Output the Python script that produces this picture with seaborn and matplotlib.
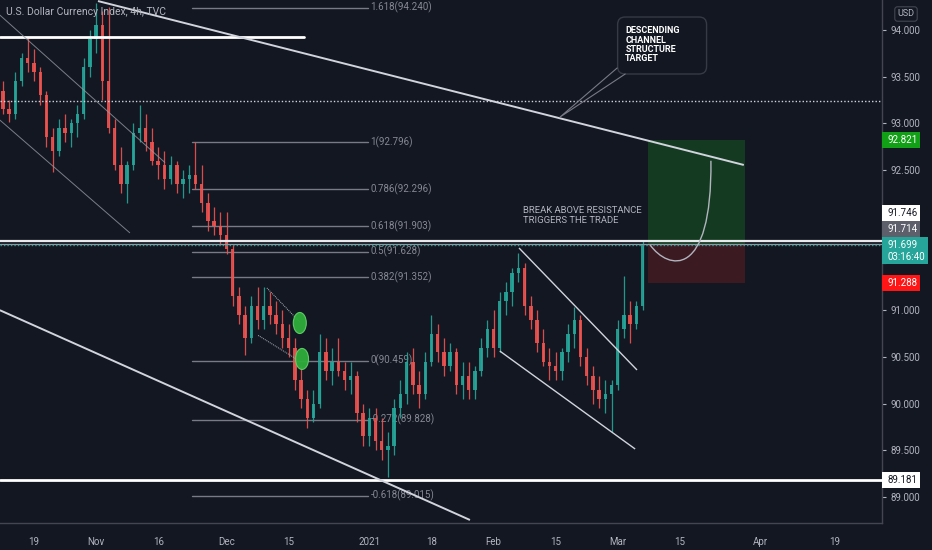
import numpy as np
import pandas as pd
import seaborn as sns
import matplotlib.pyplot as plt
from matplotlib.patches import Rectangle, Ellipse, FancyBboxPatch, PathPatch
from matplotlib.path import Path
from matplotlib.transforms import blended_transform_factory

# %% data -------------------------------------------------------------
# daily bars on a trading-day axis, day 0 = 2020-10-19
first_day = -5
first_open = 93.35
closes = [93.15, 93.10, 93.45, 93.70, 93.65, 93.55, 93.30, 92.85, 92.70, 92.95,
          92.90, 93.00, 93.10, 93.60, 93.90, 94.05, 93.45, 92.95, 92.55, 92.35,
          92.55, 92.90, 92.95, 92.80, 92.60, 92.55, 92.40, 92.55, 92.35, 92.40,
          92.45, 92.35, 92.15, 91.95, 91.90, 91.80, 91.65, 91.15, 90.95, 90.70,
          91.05, 90.90, 91.05, 90.95, 90.85, 90.70, 90.60, 90.25, 90.05, 89.85,
          90.00, 90.55, 90.35, 90.45, 90.35, 90.25, 90.30, 89.90, 89.65, 89.85,
          89.60, 89.50, 89.55, 89.95, 90.10, 90.45, 90.20, 90.10, 90.45, 90.75,
          90.55, 90.40, 90.55, 90.20, 90.30, 90.15, 90.35, 90.60, 90.80, 90.60,
          91.10, 91.20, 91.40, 91.45, 91.05, 90.90, 90.65, 90.45, 90.40, 90.35,
          90.55, 90.75, 90.90, 90.50, 90.30, 90.15, 90.05, 90.10, 90.20, 90.80,
          90.95, 90.85, 91.05, 91.70]
highs = [93.45, 93.25, 93.55, 93.75, 93.91, 93.80, 93.60, 93.35, 92.95, 93.05,
         93.10, 93.05, 93.20, 93.70, 94.00, 94.29, 94.20, 94.25, 93.05, 92.75,
         92.60, 93.00, 93.20, 93.10, 92.95, 92.75, 92.70, 92.65, 92.60, 92.50,
         92.55, 92.80, 92.55, 92.25, 92.10, 92.05, 92.05, 91.70, 91.25, 91.05,
         91.15, 91.25, 91.25, 91.20, 91.10, 91.00, 90.85, 90.70, 90.40, 90.15,
         90.15, 90.75, 90.70, 90.60, 90.70, 90.45, 90.45, 90.35, 90.00, 89.95,
         89.95, 89.85, 89.70, 90.05, 90.25, 90.55, 90.60, 90.35, 90.55, 90.95,
         90.85, 90.70, 90.65, 90.60, 90.45, 90.45, 90.40, 90.70, 90.90, 91.00,
         91.20, 91.30, 91.45, 91.61, 91.50, 91.15, 91.00, 90.80, 90.60, 90.55,
         90.60, 90.85, 91.03, 90.95, 90.60, 90.40, 90.30, 90.25, 90.25, 90.90,
         91.37, 91.10, 91.10, 91.75]
lows = [93.10, 93.02, 93.05, 93.40, 93.55, 93.45, 93.20, 92.75, 92.48, 92.65,
        92.80, 92.75, 92.85, 93.05, 93.50, 93.75, 93.25, 92.90, 92.50, 92.25,
        92.15, 92.50, 92.80, 92.70, 92.55, 92.40, 92.30, 92.35, 92.25, 92.20,
        92.25, 92.30, 92.05, 91.85, 91.80, 91.70, 91.60, 91.05, 90.85, 90.52,
        90.65, 90.80, 90.80, 90.85, 90.75, 90.60, 90.50, 90.15, 89.95, 89.74,
        89.80, 89.95, 90.25, 90.20, 90.30, 90.15, 90.10, 89.80, 89.55, 89.55,
        89.50, 89.40, 89.21, 89.45, 89.85, 90.00, 90.10, 89.95, 90.05, 90.40,
        90.45, 90.30, 90.35, 90.10, 90.05, 90.05, 90.05, 90.30, 90.50, 90.50,
        90.55, 90.95, 91.05, 91.30, 90.95, 90.80, 90.55, 90.40, 90.25, 90.25,
        90.25, 90.45, 90.60, 90.40, 90.20, 90.00, 89.95, 89.90, 89.70, 90.15,
        90.70, 90.65, 90.80, 91.00]

fib_ratios = ["1.618", "1", "0.786", "0.618", "0.5", "0.382", "0", "-0.272", "-0.618"]
fib_prices = [94.240, 92.796, 92.296, 91.903, 91.628, 91.352, 90.459, 89.828, 89.015]
fib_days = [25.4, 53.8]

tick_dates = ["2020-10-19", "2020-11-01", "2020-11-16", "2020-12-01", "2020-12-15",
              "2021-01-01", "2021-01-18", "2021-02-01", "2021-02-15", "2021-03-01",
              "2021-03-15", "2021-04-01", "2021-04-19"]
tick_labels = ["19", "Nov", "16", "Dec", "15", "2021", "18", "Feb", "15", "Mar",
               "15", "Apr", "19"]
holidays = ["2021-01-01"]

resistance = 91.746
prev_close = 91.714
last_price = 91.699
countdown = "03:16:40"
support = 89.181
old_high = 93.925
dotted_level = 93.24

# long position tool
entry, target, stop = 91.71, 92.821, 91.288
trade_days = [98.9, 114.5]

# drawn trend lines: (day0, price0, day1, price1)
top_channel = [10.3, 94.31, 114.3, 92.555]
bottom_channel = [-5.5, 91.00, 70.2, 88.754]
left_upper = [-5.5, 94.16, 21.1, 92.58]
left_lower = [-5.5, 93.036, 15.45, 91.827]
wedge_upper = [37.5, 91.238, 42.8, 90.874]
wedge_lower = [36.1, 90.73, 42.5, 90.467]
feb_upper = [78.1, 91.666, 97.1, 90.360]
feb_lower = [75.0, 90.563, 96.8, 89.514]

marker_days = [42.8, 43.16]
marker_prices = [90.863, 90.478]

# projected path (cubic bezier control points: day, price)
proj_path = [(99.2, 91.70), (102.1, 91.43), (109.2, 91.32), (109.0, 92.60)]

# %% style ------------------------------------------------------------
BG = "#131722"
TXT = "#b2b5be"
UP = "#26a69a"
DOWN = "#ef5350"
AX = "#434651"

sns.set_theme(style="dark", rc={
    "axes.facecolor": BG, "figure.facecolor": BG, "savefig.facecolor": BG,
    "axes.edgecolor": AX, "text.color": TXT,
    "xtick.color": TXT, "ytick.color": TXT,
})
plt.rcParams["font.family"] = ["Roboto", "DejaVu Sans"]

fig = plt.figure(figsize=(9.32, 5.5), dpi=100)
ax = fig.add_axes([0, 27 / 550, 882 / 932, 523 / 550])
ax.set_xlim(-5.475, 136.55)
ax.set_ylim(88.7216, 94.3212)
ppu = 523 / (94.3212 - 88.7216)  # pixels per price unit

# %% trade boxes --------------------------------------------------------
tw = trade_days[1] - trade_days[0]
ax.add_patch(Rectangle((trade_days[0], entry), tw, target - entry,
                       fc="#143b21", ec="none", zorder=1))
ax.add_patch(Rectangle((trade_days[0], stop), tw, entry - stop,
                       fc="#3b1a22", ec="none", zorder=1))

# %% fib levels -------------------------------------------------------
fib_df = pd.DataFrame({
    "day": np.tile(fib_days, len(fib_prices)),
    "price": np.repeat(fib_prices, 2),
    "level": np.repeat(fib_ratios, 2),
})
sns.lineplot(data=fib_df, x="day", y="price", units="level", estimator=None,
             color="#787b86", lw=1, ax=ax, legend=False, zorder=2)
for r, p in zip(fib_ratios, fib_prices):
    ax.text(fib_days[1] + 0.4, p, f"{r}({p:.3f})", color="#868993",
            fontsize=7, va="center", ha="left", zorder=2)

# %% candles ----------------------------------------------------------
c = np.array(closes)
o = np.r_[first_open, c[:-1]]
h = np.array(highs)
l = np.array(lows)
days = np.arange(first_day, first_day + len(c))
cols = np.where(c >= o, UP, DOWN)
ax.vlines(days, l, h, colors=cols, lw=0.9, alpha=0.9, zorder=3)
ax.bar(days, np.maximum(np.abs(c - o), 0.012), bottom=np.minimum(o, c),
       width=0.55, color=cols, edgecolor="none", linewidth=0, alpha=0.9, zorder=3)

# %% horizontal levels --------------------------------------------------
ax.axhline(dotted_level, color="#d1d4dc", lw=1, ls=(0, (1, 1.5)), zorder=4)
ax.axhline(resistance, color="#e8e9ec", lw=1.6, zorder=4)
ax.axhline(prev_close, color="#9598a1", lw=0.9, zorder=4)
ax.axhline(last_price, color=UP, lw=1, ls=(0, (1, 1.5)), zorder=4)
ax.axhline(support, color="white", lw=2, zorder=4)
ax.plot([-5.475, 43.5], [old_high, old_high], color="white", lw=2, zorder=4)

# %% trend lines ------------------------------------------------------
def seg(s, **kw):
    ax.plot([s[0], s[2]], [s[1], s[3]], solid_capstyle="butt", **kw)

seg(top_channel, color="#d1d4dc", lw=1.4, zorder=4)
seg(bottom_channel, color="#d1d4dc", lw=1.4, zorder=4)
seg(left_upper, color="#9598a1", lw=0.7, alpha=0.8, zorder=4)
seg(left_lower, color="#9598a1", lw=0.7, alpha=0.8, zorder=4)
seg(wedge_upper, color="#b2b5be", lw=0.7, ls=(0, (1, 1)), zorder=4)
seg(wedge_lower, color="#b2b5be", lw=0.7, ls=(0, (1, 1)), zorder=4)
seg(feb_upper, color="#d1d4dc", lw=1, zorder=4)
seg(feb_lower, color="#d1d4dc", lw=1, zorder=4)

for d, p in zip(marker_days, marker_prices):
    ax.add_patch(Ellipse((d, p), 2.1, 0.225, fc="#2fae3a", ec="#5fd06a",
                         lw=0.8, alpha=0.95, zorder=5))

ax.add_patch(PathPatch(Path(proj_path, [Path.MOVETO, Path.CURVE4, Path.CURVE4, Path.CURVE4]),
                       fc="none", ec="#b2b5be", lw=1, zorder=5))

# %% callout ------------------------------------------------------------
ax.add_patch(FancyBboxPatch((93.98, 93.529), 14.32, 0.61,
                            boxstyle="round,pad=0,rounding_size=1.2",
                            mutation_aspect=1 / 15.04, fc=BG, ec="#363a45",
                            lw=1, zorder=6))
ax.text(95.2, 94.04, "DESCENDING\nCHANNEL\nSTRUCTURE\nTARGET", color="white",
        fontsize=6.5, fontweight="bold", va="top", ha="left", linespacing=1.05, zorder=7)
ax.plot([93.9, 84.7, 95.2], [93.593, 93.068, 93.529], color="#787b86", lw=0.8, zorder=6)

ax.text(78.74, 92.116, "BREAK ABOVE RESISTANCE\nTRIGGERS THE TRADE", color=TXT,
        fontsize=6.8, va="top", ha="left", linespacing=1.1, zorder=7)

ax.text(0.007, 0.986, "U.S. Dollar Currency Index, 4h, TVC", transform=ax.transAxes,
        color=TXT, fontsize=7.5, va="top", ha="left", zorder=7)

# %% axes -------------------------------------------------------------
ax.set_xticks(np.busday_count("2020-10-19", tick_dates, holidays=holidays))
ax.set_xticklabels(tick_labels)
yt = np.arange(89.0, 94.01, 0.5)
ax.set_yticks(yt)
# 92.000 and 91.500 sit under the price tags
ax.set_yticklabels(["" if v in (92.0, 91.5) else f"{v:.3f}" for v in yt])
ax.yaxis.tick_right()
ax.tick_params(axis="y", length=3, width=0.8, pad=3, labelsize=7, colors=TXT)
ax.tick_params(axis="x", length=3, width=0.8, pad=7, labelsize=7, colors=TXT)
ax.set_xlabel("")
ax.set_ylabel("")
ax.grid(False)
for s in ["top", "left"]:
    ax.spines[s].set_visible(False)
for s in ["right", "bottom"]:
    ax.spines[s].set_color(AX)
    ax.spines[s].set_linewidth(1)

# price tags on the scale
trans = blended_transform_factory(ax.transAxes, ax.transData)

def tag(y, text, fc, tc, w=38, hpx=16):
    ax.add_patch(Rectangle((1.0, y - hpx / 2 / ppu), w / 882, hpx / ppu,
                           transform=trans, clip_on=False, fc=fc, ec="none", zorder=10))
    ax.text(1.0 + 6 / 882, y, text, transform=trans, clip_on=False, color=tc,
            fontsize=7, va="center", ha="left", linespacing=1.25, zorder=11)

tag(target, f"{target:.3f}", "#12a016", "white")
tag(92.041, f"{resistance:.3f}", "white", BG)
tag(91.869, f"{prev_close:.3f}", "#5d606b", "white")
tag(91.639, f"{last_price:.3f}\n{countdown}", UP, "white", w=46, hpx=27)
tag(stop, f"{stop:.3f}", "#ff1515", "white")
tag(support, f"{support:.3f}", "white", BG)

fig.text(906 / 932, 1 - 14 / 550, "USD", color=TXT, fontsize=6.5, ha="center", va="center",
         bbox=dict(boxstyle="round,pad=0.3", fc=BG, ec=AX, lw=0.8))

fig.savefig("out.png", dpi=100)
